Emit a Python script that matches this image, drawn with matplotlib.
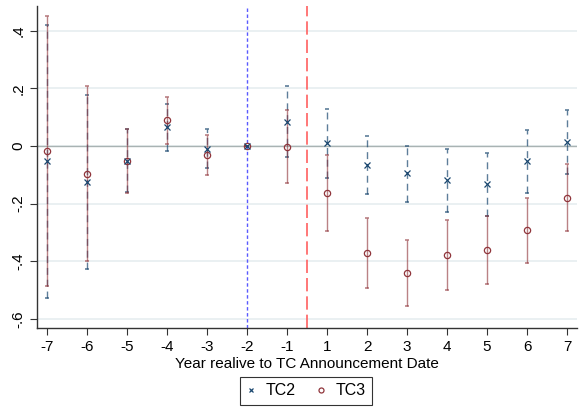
import matplotlib
matplotlib.use("Agg")
import matplotlib.pyplot as plt
import numpy as np

plt.rcParams["font.family"] = ["Liberation Sans", "DejaVu Sans"]

# event-time categories (year 0 omitted)
years = ["-7", "-6", "-5", "-4", "-3", "-2", "-1", "1", "2", "3", "4", "5", "6", "7"]

# TC2 estimates and confidence bounds
tc2 = [-0.052, -0.125, -0.053, 0.065, -0.009, 0.0, 0.084,
       0.009, -0.065, -0.095, -0.118, -0.133, -0.052, 0.015]
tc2_lo = [-0.527, -0.427, -0.160, -0.017, -0.076, 0.0, -0.040,
          -0.110, -0.166, -0.196, -0.228, -0.242, -0.162, -0.096]
tc2_hi = [0.420, 0.175, 0.058, 0.145, 0.058, 0.0, 0.208,
          0.128, 0.035, 0.001, -0.011, -0.024, 0.054, 0.126]

# TC3 estimates and confidence bounds
tc3 = [-0.017, -0.096, -0.053, 0.089, -0.031, 0.0, -0.003,
       -0.163, -0.372, -0.440, -0.379, -0.362, -0.292, -0.179]
tc3_lo = [-0.484, -0.399, -0.162, 0.005, -0.100, 0.0, -0.128,
          -0.295, -0.493, -0.556, -0.500, -0.480, -0.404, -0.296]
tc3_hi = [0.450, 0.206, 0.058, 0.171, 0.039, 0.0, 0.124,
          -0.031, -0.251, -0.327, -0.258, -0.242, -0.180, -0.064]

yticks = [0.4, 0.2, 0.0, -0.2, -0.4, -0.6]
ytick_labels = [".4", ".2", "0", "-.2", "-.4", "-.6"]

navy = "#1a476f"
maroon = "#90353b"

fig = plt.figure(figsize=(5.83, 4.11), dpi=100)
ax = fig.add_axes([37 / 583, (411 - 328) / 411, 540 / 583, 322 / 411])

pos = np.arange(1, len(years) + 1)

# light grid and zero line
for yv in yticks:
    ax.axhline(yv, color="#e6eef0", lw=1.2, zorder=0)
ax.axhline(0, color="#a9b3b3", lw=1, zorder=1)

# reference lines: base year and announcement
ax.axvline(6, color="#5a5aff", lw=1, ls=(0, (2.5, 1.8)), zorder=2)
ax.axvline(7.5, color="#ff6060", lw=1.2, ls=(0, (8, 3)), zorder=2)


def ci_bars(lo, hi, color, ls, alpha):
    lo = np.array(lo)
    hi = np.array(hi)
    ax.vlines(pos, lo, hi, colors=color, linestyles=ls, lw=1, alpha=alpha, zorder=3)
    ax.plot(pos, lo, ls="none", marker="_", ms=2.2, mew=1.2, color=color, alpha=alpha, zorder=3)
    ax.plot(pos, hi, ls="none", marker="_", ms=2.2, mew=1.2, color=color, alpha=alpha, zorder=3)


ci_bars(tc2_lo, tc2_hi, navy, (0, (5, 3.5)), 0.7)
ci_bars(tc3_lo, tc3_hi, maroon, "solid", 0.62)

ax.plot(pos, tc2, ls="none", marker="x", ms=4, mew=0.9, color=navy, label="TC2", zorder=5)
ax.plot(pos, tc3, ls="none", marker="o", ms=4.5, mew=0.9, mfc="none", mec=maroon,
        label="TC3", zorder=4)

ax.set_xlim(0.75, 14.25)
ax.set_ylim(-0.631, 0.485)
ax.set_xticks(pos)
ax.set_xticklabels(years, fontsize=11)
ax.set_yticks(yticks)
ax.set_yticklabels(ytick_labels, fontsize=11, rotation=90, va="center")
ax.tick_params(axis="both", direction="out", length=5, width=0.8, color="#333333")
ax.set_xlabel("Year realive to TC Announcement Date", fontsize=11, labelpad=2)

for side in ("top", "right"):
    ax.spines[side].set_visible(False)
for side in ("left", "bottom"):
    ax.spines[side].set_color("#333333")
    ax.spines[side].set_linewidth(1)

leg = ax.legend(loc="upper center", bbox_to_anchor=(306 / 583, 34 / 411),
                bbox_transform=fig.transFigure, ncol=2, fontsize=11.5,
                frameon=True, fancybox=False, edgecolor="black",
                handlelength=0.6, handletextpad=0.6, columnspacing=1.3,
                borderpad=0.4, borderaxespad=0, markerscale=0.8)
leg.get_frame().set_linewidth(0.8)

fig.savefig("out.png", dpi=100)
